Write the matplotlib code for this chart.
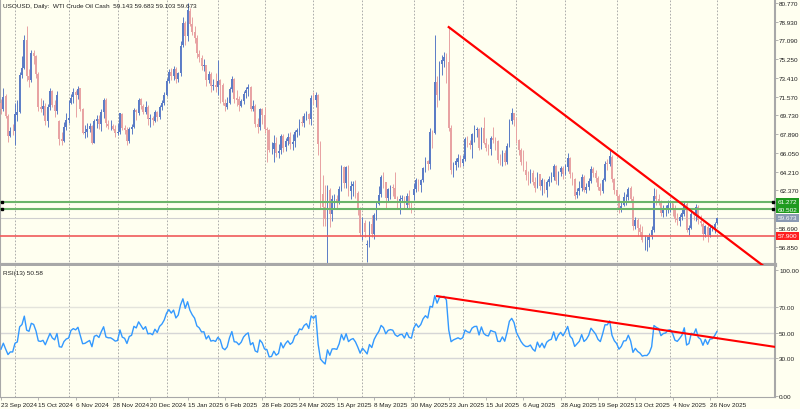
import numpy as np
import pandas as pd
import matplotlib
matplotlib.use('Agg')
import matplotlib.pyplot as plt
import matplotlib.transforms as mtransforms

plt.rcParams['font.family'] = ['Liberation Sans', 'DejaVu Sans']

# ---------------- data ----------------
holidays = ['2024-12-25', '2025-01-01', '2025-04-18']
dates = [d for d in pd.bdate_range('2024-09-23', '2025-12-01') if d.strftime('%Y-%m-%d') not in holidays]

opens = [
    71.0, 70.4, 71.6, 69.7, 67.7, 68.2, 68.2, 69.8, 70.1, 73.7,
    74.4, 77.1, 73.6, 73.2, 75.9, 75.6, 73.8, 70.6, 70.4, 70.7,
    69.2, 70.6, 72.1, 70.8, 70.2, 69.2, 67.4, 67.2, 68.6, 69.3,
    71.0, 71.5, 72.0, 71.7, 72.4, 70.4, 68.0, 68.1, 68.4, 68.7,
    67.0, 69.2, 69.4, 68.9, 70.1, 71.2, 68.9, 68.7, 68.7, 68.4,
    68.0, 68.1, 69.9, 68.5, 68.3, 67.2, 68.4, 68.6, 70.3, 70.0,
    71.3, 70.7, 70.1, 70.6, 69.4, 69.5, 69.2, 70.1, 69.6, 70.6,
    71.0, 71.7, 73.1, 74.0, 73.6, 74.3, 73.3, 73.9, 76.6, 78.8,
    77.5, 80.0, 78.7, 77.9, 77.3, 75.8, 75.4, 74.6, 74.7, 73.2,
    73.8, 72.6, 72.7, 72.5, 73.2, 72.7, 71.0, 70.6, 71.0, 72.3,
    73.3, 71.4, 71.3, 70.7, 71.1, 71.9, 72.3, 72.5, 70.4, 70.7,
    68.9, 68.6, 70.4, 69.8, 68.4, 68.3, 66.3, 66.4, 67.0, 66.0,
    66.3, 67.7, 66.6, 67.2, 67.6, 66.9, 67.2, 68.1, 68.3, 69.1,
    69.0, 69.7, 69.9, 69.4, 71.5, 71.2, 71.7, 67.0, 62.0, 60.7,
    59.6, 62.4, 60.1, 61.5, 61.5, 61.3, 62.5, 64.7, 63.1, 64.7,
    62.3, 62.8, 63.0, 62.1, 60.4, 58.2, 59.2, 57.0, 57.1, 59.1,
    58.1, 59.9, 61.0, 62.0, 63.7, 63.2, 61.6, 62.5, 62.7, 62.6,
    61.6, 61.2, 61.5, 61.6, 60.9, 61.8, 60.9, 61.9, 62.5, 63.4,
    62.9, 63.4, 64.6, 65.3, 65.0, 68.2, 68.0, 73.0, 71.8, 74.8,
    75.1, 75.5, 75.0, 68.5, 64.4, 64.9, 65.2, 65.5, 65.1, 65.5,
    67.5, 67.0, 66.8, 67.9, 68.3, 68.4, 66.6, 68.5, 67.0, 66.5,
    66.4, 67.5, 67.3, 67.2, 65.3, 65.3, 66.0, 65.2, 66.7, 69.2,
    70.0, 69.3, 67.3, 66.3, 65.2, 64.4, 63.9, 63.9, 64.1, 63.2,
    62.7, 64.0, 62.8, 63.4, 62.4, 63.2, 63.5, 63.7, 64.8, 63.3,
    64.2, 64.6, 64.0, 64.7, 65.6, 64.0, 63.5, 61.9, 62.3, 62.6,
    63.7, 62.4, 62.7, 63.3, 64.5, 64.1, 63.6, 62.7, 62.3, 63.4,
    65.0, 65.0, 65.7, 63.5, 62.4, 61.8, 60.5, 60.9, 61.7, 61.7,
    62.6, 61.5, 58.9, 59.5, 58.7, 58.3, 57.5, 57.5, 57.5, 57.8,
    58.5, 61.8, 61.5, 61.3, 60.2, 60.5, 60.6, 61.0, 61.1, 60.6,
    59.6, 59.4, 59.8, 60.1, 61.0, 58.5, 58.7, 60.1, 59.9, 60.7,
    59.4, 59.1, 58.1, 58.8, 58.0, 58.7, 58.7, 59.143]

highs = [
    71.3, 72.4, 71.8, 69.9, 68.6, 68.9, 71.0, 71.2, 74.0, 75.6,
    77.6, 78.5, 74.3, 76.2, 76.2, 75.7, 74.0, 71.4, 71.2, 71.0,
    70.9, 72.4, 72.2, 71.2, 72.1, 69.3, 68.1, 69.1, 70.0, 71.2,
    71.8, 72.4, 72.2, 72.6, 72.4, 70.5, 68.8, 69.0, 69.0, 68.8,
    69.4, 69.8, 69.8, 70.4, 71.4, 71.4, 69.3, 69.3, 68.9, 68.8,
    69.0, 70.0, 70.0, 68.8, 68.6, 68.6, 68.9, 70.5, 70.4, 71.4,
    71.4, 70.9, 71.1, 70.8, 69.9, 69.7, 70.3, 70.2, 70.8, 71.2,
    72.0, 73.4, 74.3, 74.4, 74.6, 74.5, 74.0, 77.0, 79.4, 79.0,
    80.77, 80.3, 79.4, 78.5, 77.6, 76.2, 75.7, 75.3, 74.7, 74.1,
    74.0, 73.3, 73.9, 75.2, 73.3, 72.9, 71.3, 71.5, 72.5, 73.6,
    73.4, 72.2, 71.6, 71.3, 72.1, 72.5, 72.8, 72.6, 71.2, 70.9,
    69.5, 70.5, 70.5, 70.6, 68.6, 68.4, 67.1, 67.8, 67.6, 66.9,
    67.9, 67.9, 67.5, 68.0, 68.1, 67.9, 68.3, 68.5, 69.4, 69.7,
    70.0, 70.2, 70.0, 71.7, 72.0, 72.0, 71.8, 67.2, 63.9, 62.9,
    62.9, 62.6, 61.9, 62.0, 61.9, 62.8, 64.9, 64.8, 64.8, 64.9,
    63.3, 63.3, 63.4, 62.3, 60.7, 59.8, 59.5, 57.5, 59.4, 60.0,
    60.2, 61.3, 62.8, 63.9, 64.2, 63.2, 62.6, 62.9, 63.0, 64.2,
    61.8, 61.9, 61.9, 61.8, 62.1, 62.4, 61.3, 63.1, 63.6, 63.5,
    63.5, 64.7, 65.7, 65.4, 68.5, 68.3, 77.62, 73.6, 75.1, 75.7,
    76.0, 75.9, 78.40, 68.8, 65.2, 65.6, 65.9, 65.8, 65.8, 67.6,
    67.7, 67.3, 68.0, 68.8, 68.6, 68.5, 68.6, 69.6, 67.5, 66.9,
    67.7, 68.6, 67.6, 67.3, 65.9, 66.3, 66.3, 67.0, 69.4, 70.5,
    70.0, 69.6, 67.4, 66.5, 66.3, 65.3, 64.3, 64.5, 64.4, 63.7,
    64.2, 64.0, 63.6, 63.5, 63.4, 63.8, 64.2, 65.0, 64.9, 64.3,
    64.8, 64.8, 65.0, 66.0, 65.7, 64.2, 63.6, 62.6, 63.3, 64.0,
    63.9, 63.1, 63.6, 64.8, 64.7, 64.4, 63.8, 63.1, 63.6, 65.3,
    65.5, 66.4, 65.8, 63.6, 62.5, 62.0, 61.3, 62.2, 62.0, 62.7,
    62.8, 61.8, 59.8, 59.7, 59.1, 58.9, 58.0, 57.9, 58.2, 58.9,
    62.6, 62.5, 62.0, 61.4, 60.9, 60.9, 61.4, 61.4, 61.1, 60.9,
    60.2, 60.1, 60.5, 61.2, 61.2, 59.0, 60.6, 60.3, 61.0, 60.9,
    60.0, 59.3, 59.0, 59.0, 58.9, 59.0, 59.3, 59.683]

lows = [
    69.9, 70.2, 69.5, 67.1, 67.6, 67.8, 66.8, 69.2, 70.0, 73.4,
    74.3, 73.1, 72.5, 73.0, 74.8, 73.4, 70.2, 70.1, 69.8, 68.8,
    68.6, 70.3, 70.6, 69.6, 69.9, 66.8, 66.8, 67.1, 68.3, 69.0,
    70.9, 71.0, 69.6, 71.3, 70.2, 67.9, 67.5, 67.6, 68.1, 66.9,
    67.0, 68.5, 68.4, 68.2, 69.5, 68.6, 68.4, 68.3, 68.3, 67.6,
    67.8, 67.9, 68.3, 67.9, 66.8, 67.0, 67.9, 68.5, 69.3, 69.8,
    70.4, 69.9, 69.9, 68.8, 68.6, 68.8, 69.1, 69.2, 69.4, 70.3,
    70.8, 71.6, 72.9, 73.2, 73.2, 72.9, 73.0, 73.6, 76.4, 76.6,
    77.0, 78.5, 77.6, 76.8, 75.4, 75.0, 74.2, 74.1, 72.6, 72.9,
    72.0, 72.2, 72.0, 71.7, 71.0, 70.8, 70.2, 70.4, 70.9, 72.0,
    71.0, 70.7, 70.2, 70.6, 70.9, 71.4, 71.6, 70.2, 70.2, 68.6,
    68.0, 68.3, 68.9, 68.0, 65.2, 66.1, 65.9, 65.2, 65.7, 65.6,
    65.9, 66.1, 66.2, 66.8, 66.4, 66.3, 66.6, 67.6, 67.8, 68.7,
    68.6, 69.3, 68.9, 68.8, 70.9, 70.6, 65.8, 60.5, 58.9, 58.9,
    55.12, 58.8, 59.4, 60.6, 60.6, 61.0, 62.3, 62.6, 62.6, 61.8,
    61.5, 61.8, 61.6, 60.0, 57.9, 57.5, 57.8, 55.3, 56.8, 57.8,
    57.6, 59.5, 60.9, 61.7, 62.6, 60.5, 61.3, 61.5, 61.8, 61.9,
    60.6, 60.1, 61.3, 60.5, 60.6, 60.5, 60.2, 61.4, 62.2, 62.3,
    62.2, 63.2, 64.2, 64.4, 64.5, 66.5, 67.9, 70.6, 71.2, 73.7,
    74.5, 72.9, 68.2, 64.0, 63.7, 64.4, 64.7, 64.7, 64.8, 65.3,
    66.6, 66.4, 65.6, 67.1, 67.6, 66.3, 66.4, 66.9, 66.2, 65.8,
    65.8, 67.0, 66.3, 65.1, 64.9, 64.8, 64.9, 65.0, 66.6, 68.9,
    68.7, 67.0, 65.8, 64.9, 64.3, 63.4, 62.9, 63.1, 62.9, 62.2,
    62.6, 62.4, 61.9, 62.1, 61.7, 62.8, 63.2, 63.4, 63.0, 62.9,
    63.8, 63.5, 63.9, 64.3, 63.6, 62.9, 61.5, 61.6, 61.9, 62.3,
    62.2, 62.1, 62.4, 63.1, 63.7, 63.2, 62.4, 61.9, 62.1, 63.3,
    64.4, 64.8, 63.2, 62.0, 61.2, 60.2, 60.3, 60.8, 60.9, 61.4,
    61.2, 58.5, 58.6, 57.9, 57.9, 57.3, 56.5, 56.4, 56.8, 57.6,
    58.3, 60.9, 60.9, 59.9, 59.8, 59.9, 60.2, 60.3, 59.9, 59.3,
    59.0, 58.9, 59.5, 59.9, 58.3, 58.0, 58.6, 59.5, 59.4, 59.1,
    58.9, 57.5, 57.8, 57.3, 57.8, 58.4, 58.2, 59.103]

closes = [
    70.37, 71.56, 69.69, 67.67, 68.18, 68.17, 69.83, 70.10, 73.71, 74.38,
    77.14, 73.57, 73.24, 75.85, 75.56, 73.83, 70.58, 70.39, 70.67, 69.22,
    70.56, 72.09, 70.77, 70.19, 71.78, 67.38, 67.21, 68.61, 69.26, 69.49,
    71.47, 71.99, 71.69, 72.36, 70.38, 68.04, 68.12, 68.43, 68.70, 67.02,
    69.16, 69.39, 68.87, 70.10, 71.24, 68.94, 68.72, 68.72, 68.40, 68.00,
    68.10, 69.94, 68.54, 68.30, 67.20, 68.37, 68.59, 70.29, 70.02, 71.29,
    70.71, 70.08, 70.58, 69.38, 69.46, 69.24, 70.10, 69.62, 70.60, 70.99,
    71.72, 73.13, 73.96, 73.56, 74.25, 73.32, 73.92, 76.57, 78.82, 77.50,
    80.04, 78.68, 77.88, 77.30, 75.83, 75.44, 74.62, 74.66, 73.17, 73.77,
    72.62, 72.73, 72.53, 73.16, 72.70, 71.03, 70.61, 71.00, 72.32, 73.32,
    71.37, 71.29, 70.74, 71.10, 71.85, 72.25, 72.48, 70.40, 70.70, 68.93,
    68.62, 70.35, 69.76, 68.37, 68.26, 66.31, 66.36, 67.04, 66.03, 66.25,
    67.68, 66.55, 67.18, 67.58, 66.90, 67.16, 68.07, 68.28, 69.11, 69.00,
    69.65, 69.92, 69.36, 71.48, 71.20, 71.71, 66.95, 61.99, 60.70, 59.58,
    62.35, 60.07, 61.50, 61.53, 61.33, 62.47, 64.68, 63.08, 64.67, 62.27,
    62.79, 63.02, 62.05, 60.42, 58.21, 59.24, 58.29, 57.13, 59.09, 58.07,
    59.91, 61.02, 61.95, 63.67, 63.15, 61.62, 62.49, 62.69, 62.56, 61.57,
    61.20, 61.53, 61.60, 60.89, 61.84, 60.94, 60.79, 62.52, 63.41, 62.85,
    63.37, 64.58, 65.29, 64.98, 68.15, 68.04, 72.98, 71.77, 74.84, 75.14,
    75.50, 74.93, 68.51, 64.37, 64.92, 65.24, 65.52, 65.11, 65.45, 67.45,
    67.00, 66.80, 67.93, 68.33, 68.38, 66.57, 68.45, 66.98, 66.52, 66.38,
    67.54, 67.34, 67.20, 65.31, 65.25, 66.03, 65.16, 66.71, 69.21, 70.00,
    69.26, 67.33, 66.29, 65.16, 64.35, 63.88, 63.88, 64.10, 63.17, 62.65,
    63.96, 62.80, 63.42, 62.35, 63.21, 63.52, 63.66, 64.80, 63.25, 64.15,
    64.60, 64.01, 64.70, 65.59, 63.97, 63.48, 61.87, 62.26, 62.63, 63.67,
    62.37, 62.69, 63.30, 64.52, 64.05, 63.57, 62.68, 62.28, 63.41, 64.99,
    64.98, 65.72, 63.45, 62.37, 61.78, 60.48, 60.88, 61.69, 61.73, 62.55,
    61.51, 58.90, 59.49, 58.70, 58.27, 57.46, 57.54, 57.52, 57.82, 58.50,
    61.79, 61.50, 61.31, 60.15, 60.48, 60.57, 60.98, 61.05, 60.56, 59.60,
    59.43, 59.75, 60.13, 61.04, 58.49, 58.69, 60.09, 59.91, 60.74, 59.44,
    59.14, 58.06, 58.84, 57.95, 58.65, 58.70, 59.10, 59.673]

# closes before the first visible bar (RSI warm-up)
warmup_closes = [77.42, 75.53, 74.52, 75.91, 73.55, 73.60, 70.34, 69.20, 69.15, 67.67,
                 68.71, 65.75, 67.31, 68.97, 68.65, 70.09, 71.19, 70.91, 71.95, 71.92]

tick_dates = ['2024-09-23', '2024-10-15', '2024-11-06', '2024-11-28', '2024-12-20',
              '2025-01-15', '2025-02-06', '2025-02-28', '2025-03-24', '2025-04-15',
              '2025-05-08', '2025-05-30', '2025-06-23', '2025-07-15', '2025-08-06',
              '2025-08-28', '2025-09-19', '2025-10-13', '2025-11-04', '2025-11-26']
tick_labels = ['23 Sep 2024', '15 Oct 2024', '6 Nov 2024', '28 Nov 2024', '20 Dec 2024',
               '15 Jan 2025', '6 Feb 2025', '28 Feb 2025', '24 Mar 2025', '15 Apr 2025',
               '8 May 2025', '30 May 2025', '23 Jun 2025', '15 Jul 2025', '6 Aug 2025',
               '28 Aug 2025', '19 Sep 2025', '13 Oct 2025', '4 Nov 2025', '26 Nov 2025']

price_ticks = [80.770, 78.930, 77.090, 75.250, 73.410, 71.570, 69.730, 67.890,
               66.050, 64.210, 62.370, 58.690, 56.850]
rsi_ticks = [100, 70, 50, 30, 0]

green_levels = [61.272, 60.502]
red_level = 57.900
last_price = 59.673

# trend lines: anchor bar positions (bar index) and values
price_trend_bars = [192, 327]
price_trend_vals = [78.40, 54.95]
rsi_trend_bars = [187, 332]
rsi_trend_vals = [79.0, 38.7]

# ---------------- styling ----------------
BG = '#fffff0'
BULL = '#5b7cc6'
BEAR = '#e8a3a3'
TXT = '#202020'
FS = 4.6

o = np.array(opens); h = np.array(highs); l = np.array(lows); c = np.array(closes)
n = len(c)
x = np.arange(n)
date_idx = {d.strftime('%Y-%m-%d'): i for i, d in enumerate(dates)}

# RSI(13), Wilder smoothing
allc = np.array(warmup_closes + closes)
d = np.diff(allc)
g = np.where(d > 0, d, 0.0); ls = np.where(d < 0, -d, 0.0)
P = 13
ag = g[:P].mean(); al = ls[:P].mean()
rsi_all = [np.nan] * P
for k in range(P, len(d)):
    ag = (ag * (P - 1) + g[k]) / P
    al = (al * (P - 1) + ls[k]) / P
    rsi_all.append(100 - 100 / (1 + ag / al) if al > 0 else 100)
rsi = np.array(rsi_all)[-n:]

W, H = 800, 410
def frac(x0, y0, x1, y1):
    return [x0 / W, 1 - y1 / H, (x1 - x0) / W, (y1 - y0) / H]

fig = plt.figure(figsize=(8, 4.1), dpi=100)
fig.patch.set_facecolor(BG)
ax = fig.add_axes(frac(0, 0, 775, 266))
axr = fig.add_axes(frac(0, 267, 775, 398))
px = 2.332
xl = (-1 / px, 774 / px)
for a in (ax, axr):
    a.set_facecolor(BG)
    a.set_xlim(*xl)
    for s in a.spines.values():
        s.set_color('#a8a8a8')
    a.spines['top'].set_visible(False)
    a.spines['right'].set_linewidth(1.5)

ax.spines['bottom'].set_linewidth(3)
ax.set_ylim(55.05, 81.16)
axr.set_ylim(-1.03, 102.9)

# month grid
months = pd.Series(range(n), index=pd.DatetimeIndex(dates))
month_first = months.groupby([months.index.year, months.index.month]).min().values
for mi in month_first:
    if mi == 0:
        continue
    for a in (ax, axr):
        a.axvline(mi, color='#a0a0a0', lw=0.6, ls=(0, (2, 2)), zorder=0)

# candles
up = c >= o
cols = np.where(up, BULL, BEAR)
ax.vlines(x, l, h, colors=cols, lw=0.7, zorder=2)
ax.bar(x, np.maximum(np.abs(c - o), 0.04), bottom=np.minimum(o, c), width=0.72,
       color=cols, linewidth=0, zorder=3)

# levels
for gl in green_levels:
    ax.axhline(gl, color='#6ab46a', lw=1.5, zorder=4)
ax.axhline(red_level, color='#f05a5a', lw=1.2, zorder=4)
ax.axhline(last_price, color='#cfcfcf', lw=0.8, zorder=1)
bt = mtransforms.blended_transform_factory(ax.transAxes, ax.transData)
for gl in green_levels:
    ax.plot([2 / 775, 773 / 775], [gl, gl], ls='none', marker='s', ms=2.0, color='black',
            transform=bt, clip_on=False, zorder=6)

# trend lines
ax.plot(price_trend_bars, price_trend_vals, color='#ff0000', lw=1.6, zorder=5)
axr.plot(rsi_trend_bars, rsi_trend_vals, color='#ff0000', lw=1.5, zorder=5)

# axis ticks
ax.yaxis.tick_right()
ax.set_yticks(price_ticks)
ax.set_yticklabels([f'{v:.3f}' for v in price_ticks])
ax.tick_params(axis='y', length=2, width=0.6, pad=1, labelsize=FS, colors='#a8a8a8', labelcolor=TXT)
ax.set_xticks([])

axr.yaxis.tick_right()
axr.set_yticks(rsi_ticks)
axr.set_yticklabels([f'{v:.2f}' for v in rsi_ticks])
axr.tick_params(axis='y', length=2, width=0.6, pad=1, labelsize=FS, colors='#a8a8a8', labelcolor=TXT)
axr.set_xticks([date_idx[t] for t in tick_dates])
axr.set_xticklabels(tick_labels, ha='left')
axr.tick_params(axis='x', length=2, width=0.6, pad=1.5, labelsize=FS, colors='#a8a8a8', labelcolor=TXT)

# level labels on price axis
def tag(val, fc):
    ax.text(1.0035, val, f'{val:.3f}', transform=bt, fontsize=FS, color='white', va='center',
            ha='left', clip_on=False, zorder=10,
            bbox=dict(boxstyle='square,pad=0.22', fc=fc, ec='none'))
for gl in green_levels:
    tag(gl, '#1f9a1f')
tag(last_price, '#8a9ab2')
tag(red_level, '#ff1f1f')

# RSI
for lv, cl in ((70, '#e4e4dc'), (50, '#d6d6d6'), (30, '#d6d6d6')):
    axr.axhline(lv, color=cl, lw=1.0, zorder=1)
axr.plot(x, rsi, color='#3399ff', lw=1.0, zorder=4)

# texts
ax.text(3 / 775, 1 - 7 / 266, 'USOUSD, Daily:  WTI Crude Oil Cash  59.143 59.683 59.103 59.673',
        transform=ax.transAxes, fontsize=FS, color=TXT, va='center', ha='left')
axr.text(3 / 775, 1 - 7 / 131, f'RSI(13) {50.58:.2f}', transform=axr.transAxes,
         fontsize=FS, color=TXT, va='center', ha='left')

fig.savefig('out.png', dpi=100, facecolor=BG)
